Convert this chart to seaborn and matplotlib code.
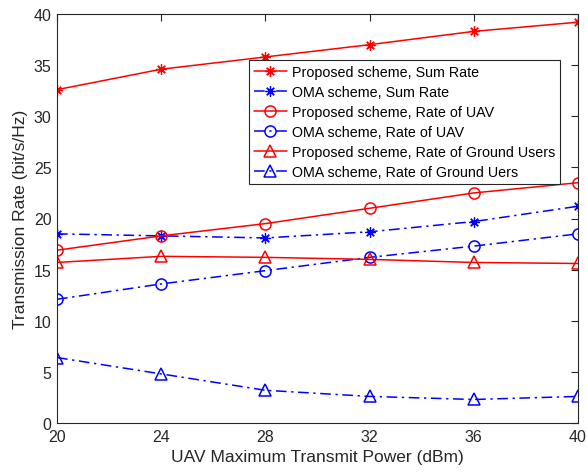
import numpy as np
import pandas as pd
import seaborn as sns
import matplotlib
matplotlib.use("Agg")
import matplotlib.pyplot as plt

# UAV maximum transmit power (dBm)
power_dbm = [20, 24, 28, 32, 36, 40]

# Transmission rates (bit/s/Hz)
proposed_sum = [32.6, 34.6, 35.8, 37.0, 38.3, 39.2]
oma_sum = [18.5, 18.3, 18.1, 18.7, 19.7, 21.2]
proposed_uav = [16.9, 18.3, 19.5, 21.0, 22.5, 23.5]
oma_uav = [12.1, 13.6, 14.9, 16.2, 17.3, 18.5]
proposed_gu = [15.7, 16.3, 16.2, 16.0, 15.7, 15.6]
oma_gu = [6.4, 4.8, 3.2, 2.6, 2.3, 2.6]

series_labels = [
    "Proposed scheme, Sum Rate",
    "OMA scheme, Sum Rate",
    "Proposed scheme, Rate of UAV",
    "OMA scheme, Rate of UAV",
    "Proposed scheme, Rate of Ground Users",
    "OMA scheme, Rate of Ground Uers",
]
series_values = [proposed_sum, oma_sum, proposed_uav, oma_uav, proposed_gu, oma_gu]

sns.set_theme(style="white")
plt.rcParams["font.family"] = ["Liberation Sans", "DejaVu Sans"]

ink = "#262626"
red = "#ff0000"
blue = "#0000ff"
asterisk = (8, 2, 0)
dashdot = (0, (7, 3, 1.5, 3))

styles = [
    dict(color=red, marker=asterisk, linestyle="-"),
    dict(color=blue, marker=asterisk, linestyle=dashdot),
    dict(color=red, marker="o", linestyle="-"),
    dict(color=blue, marker="o", linestyle=dashdot),
    dict(color=red, marker="^", linestyle="-"),
    dict(color=blue, marker="^", linestyle=dashdot),
]

fig = plt.figure(figsize=(5.87, 4.77), dpi=100)
ax = fig.add_axes([57 / 587, 53 / 477, 521 / 587, 409 / 477])

for label, values, st in zip(series_labels, series_values, styles):
    df = pd.DataFrame({"power": power_dbm, "rate": values})
    marker = st["marker"]
    is_star = marker == asterisk
    sns.lineplot(
        data=df, x="power", y="rate", ax=ax,
        color=st["color"], linestyle=st["linestyle"], linewidth=1.1,
        marker=marker, markersize=7.5 if is_star else 8,
        markerfacecolor="none", markeredgecolor=st["color"],
        markeredgewidth=0.9 if is_star else 1.1, label=label, estimator=None,
    )

ax.set_xlim(20, 40)
ax.set_ylim(0, 40)
ax.set_xticks(power_dbm)
ax.set_yticks(np.arange(0, 41, 5))
ax.set_xlabel("UAV Maximum Transmit Power (dBm)", fontsize=12.5, color=ink)
ax.set_ylabel("Transmission Rate (bit/s/Hz)", fontsize=12.5, color=ink)
ax.tick_params(direction="in", top=True, right=True, length=5, width=0.8,
               color=ink, labelcolor=ink, labelsize=11.5, pad=4)
for sp in ax.spines.values():
    sp.set_color(ink)
    sp.set_linewidth(0.8)

leg = ax.legend(loc="upper right", bbox_to_anchor=(0.965, 0.888),
                fontsize=10.3, frameon=True, fancybox=False, framealpha=1,
                edgecolor=ink, borderpad=0.35, labelspacing=0.42,
                handlelength=2.3, handletextpad=0.35, borderaxespad=0)
leg.get_frame().set_linewidth(0.8)
for t in leg.get_texts():
    t.set_color("black")

fig.savefig("out.png", dpi=100)
